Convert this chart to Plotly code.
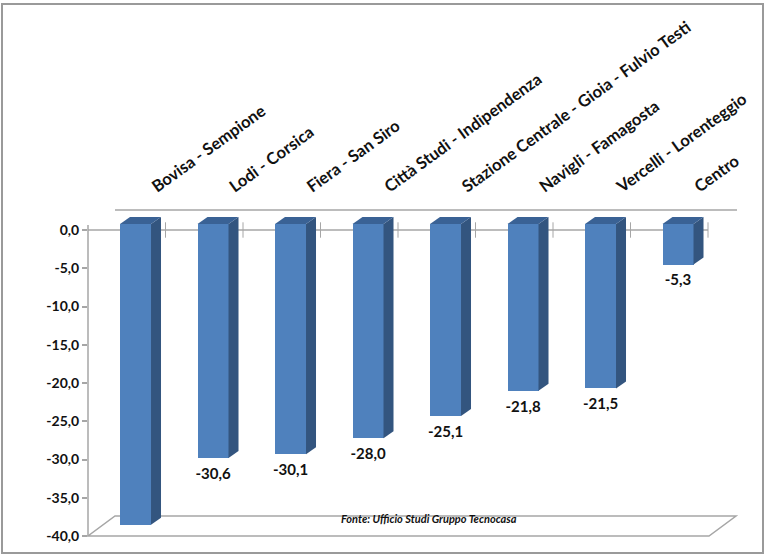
import plotly.graph_objects as go

categories = ["Bovisa - Sempione", "Lodi - Corsica", "Fiera - San Siro", "Città Studi - Indipendenza",
              "Stazione Centrale - Gioia - Fulvio Testi", "Navigli - Famagosta", "Vercelli - Lorenteggio", "Centro"]
values = [-39.3, -30.6, -30.1, -28.0, -25.1, -21.8, -21.5, -5.3]
value_labels = ["-39,3", "-30,6", "-30,1", "-28,0", "-25,1", "-21,8", "-21,5", "-5,3"]
y_ticks = [0, -5, -10, -15, -20, -25, -30, -35, -40]
y_tick_labels = ["0,0", "-5,0", "-10,0", "-15,0", "-20,0", "-25,0", "-30,0", "-35,0", "-40,0"]

W, H = 768, 557
L, R, T, B = 88, 748, 198, 536      # plot area in px
UX = 77.5                            # px per category
UY = 306 / 40                        # px per value unit
XMIN = -0.5
XMAX = XMIN + (R - L) / UX
YMAX = (230 - T) / UY

BAR_W = 31 / UX
BAR_DX = 0.113                       # front face centre relative to category centre
DEPTH_X = 10 / UX
DEPTH_Y = 7 / UY
LIFT = 6 / UY                        # front face raised above the axis plane

FRONT, SIDE, TOP = "#4f81bd", "#33557f", "#3a6295"
GRID = "#a6a6a6"
FONT = "Lato"
TXT = "#111111"


def px(x):
    return (x - L) / (R - L)


def py(y):
    return (B - y) / (B - T)


fig = go.Figure()
xs = list(range(len(values)))

# side and top faces of the 3-D columns
for x, v in zip(xs, values):
    x0 = x + BAR_DX - BAR_W / 2
    x1 = x + BAR_DX + BAR_W / 2
    y0 = v + LIFT
    y1 = LIFT
    fig.add_trace(go.Scatter(
        x=[x1, x1 + DEPTH_X, x1 + DEPTH_X, x1, x1], y=[y0, y0 + DEPTH_Y, y1 + DEPTH_Y, y1, y0],
        mode="lines", fill="toself", fillcolor=SIDE, line=dict(width=0, color=SIDE),
        hoverinfo="skip", showlegend=False))
    fig.add_trace(go.Scatter(
        x=[x0, x0 + DEPTH_X, x1 + DEPTH_X, x1, x0], y=[y1, y1 + DEPTH_Y, y1 + DEPTH_Y, y1, y1],
        mode="lines", fill="toself", fillcolor=TOP, line=dict(width=0, color=TOP),
        hoverinfo="skip", showlegend=False))

# front faces
fig.add_trace(go.Bar(x=[x + BAR_DX for x in xs], y=values, base=LIFT, width=BAR_W,
                     marker=dict(color=FRONT, line=dict(width=0)), showlegend=False, hoverinfo="skip"))

# value labels
fig.add_trace(go.Scatter(x=[x + BAR_DX for x in xs], y=[v + LIFT - 17 / UY for v in values],
                         mode="text", text=value_labels, textposition="middle center",
                         textfont=dict(family=FONT, size=15, color=TXT, weight="bold"),
                         cliponaxis=False, showlegend=False, hoverinfo="skip"))

# ticks on the zero line, between the categories
fig.add_trace(go.Scatter(x=[x + 0.5 for x in xs], y=[0] * len(xs), mode="markers",
                         marker=dict(symbol="line-ns", size=11, line=dict(width=1, color=GRID), color=GRID),
                         showlegend=False, hoverinfo="skip"))

# invisible trace that carries the rotated category axis
fig.add_trace(go.Scatter(x=xs, y=[0] * len(xs), xaxis="x2", mode="markers", marker=dict(opacity=0, size=1),
                         showlegend=False, hoverinfo="skip"))

line = dict(color=GRID, width=1.5)
shapes = [
    # outer frame
    dict(type="rect", xref="paper", yref="paper", x0=px(2), x1=px(763), y0=py(553), y1=py(4),
         line=dict(color="#9a9a9a", width=2), fillcolor="rgba(0,0,0,0)", layer="below"),
    # back top line
    dict(type="line", xref="paper", yref="paper", x0=px(115), x1=px(737), y0=py(210), y1=py(210), line=line, layer="below"),
    # value axis
    dict(type="line", xref="paper", yref="paper", x0=px(88), x1=px(88), y0=py(536), y1=py(225), line=line, layer="below"),
    # zero line
    dict(type="line", xref="paper", yref="paper", x0=px(88), x1=px(708), y0=py(230), y1=py(230), line=line, layer="below"),
    # floor
    dict(type="path", xref="paper", yref="paper",
         path=f"M {px(88)} {py(536)} L {px(709)} {py(536)} L {px(736)} {py(516)} L {px(115)} {py(516)} Z",
         line=line, fillcolor="rgba(0,0,0,0)", layer="below"),
]

fig.update_layout(
    width=W, height=H, margin=dict(l=L, r=W - R, t=T, b=H - B, autoexpand=False),
    paper_bgcolor="white", plot_bgcolor="white", bargap=0, shapes=shapes,
    xaxis=dict(range=[XMIN, XMAX], visible=False, showgrid=False, zeroline=False),
    xaxis2=dict(range=[XMIN, XMAX], overlaying="x", side="top", anchor="free", position=1,
                tickmode="array", tickvals=[x + 0.33 for x in xs], ticktext=categories, tickangle=-36,
                showline=False, showgrid=False, zeroline=False, ticks="",
                tickfont=dict(family=FONT, size=16.5, color=TXT, weight="bold")),
    yaxis=dict(range=[-40, YMAX], tickmode="array", tickvals=y_ticks, ticktext=y_tick_labels,
               showline=False, showgrid=False, zeroline=False, ticks="outside", ticklen=5,
               tickcolor=GRID, tickwidth=1.5,
               tickfont=dict(family=FONT, size=14, color=TXT, weight="bold")),
    annotations=[dict(xref="paper", yref="paper", x=px(429), y=py(527), showarrow=False,
                      text="<b><i>Fonte: Ufficio Studi Gruppo Tecnocasa</i></b>",
                      font=dict(family=FONT, size=11, color=TXT))],
)
fig.write_html("out.html", config={"displayModeBar": False},
               post_script="document.body.style.margin='0';")
